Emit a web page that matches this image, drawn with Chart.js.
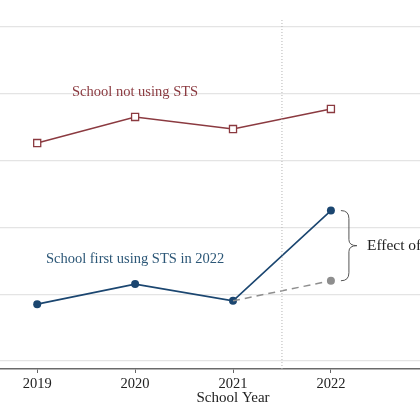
<!DOCTYPE html>
<html><head><meta charset="utf-8">
<script src="https://cdn.jsdelivr.net/npm/chart.js@4"></script>
<style>html,body{margin:0;padding:0;background:#fff}#wrap{width:420px;height:420px}</style>
</head><body><div id="wrap"><canvas id="c"></canvas></div>
<script>
const years = [2019, 2020, 2021, 2022];
const notUsing = [3.26, 3.65, 3.47, 3.77];
const firstUsing = [0.85, 1.15, 0.90, 2.25];
const counterYears = [2021, 2022];
const counterfactual = [0.90, 1.20];
const gridValues = [0, 1, 2, 3, 4, 5];
const labelNotUsing = 'School not using STS';
const labelFirstUsing = 'School first using STS in 2022';
const effectLabel = 'Effect of STS';
const xTitle = 'School Year';
const cutoffYear = 2021.5;

const RED = '#8b3a40', BLUE = '#1b4670', GRAY = '#8e8e8e';
const SERIF = '"Liberation Serif", "Times New Roman", serif';

const annot = {
  id: 'annot',
  afterDatasetsDraw(chart) {
    const {ctx, scales: {x, y}} = chart;
    ctx.save();
    ctx.font = '14.5px ' + SERIF;
    ctx.textAlign = 'center'; ctx.textBaseline = 'middle';
    ctx.fillStyle = RED;
    ctx.fillText(labelNotUsing, x.getPixelForValue(2020), y.getPixelForValue(4.02));
    ctx.fillStyle = '#2c5777';
    ctx.fillText(labelFirstUsing, x.getPixelForValue(2020), y.getPixelForValue(1.52));
    // x-axis title (centred under 2021 as in the cropped original)
    ctx.fillStyle = '#222';
    ctx.font = '15px ' + SERIF;
    ctx.fillText(xTitle, x.getPixelForValue(2021), x.bottom - 22);
    // brace
    const bx = x.getPixelForValue(2022) + 10;
    const yTop = y.getPixelForValue(firstUsing[3]);
    const yBot = y.getPixelForValue(counterfactual[1]);
    const ym = (yTop + yBot) / 2;
    const w = 8;
    ctx.strokeStyle = '#555'; ctx.lineWidth = 1;
    ctx.beginPath();
    ctx.moveTo(bx, yTop);
    ctx.quadraticCurveTo(bx + w, yTop, bx + w, yTop + 8);
    ctx.lineTo(bx + w, ym - 6);
    ctx.quadraticCurveTo(bx + w, ym, bx + 2*w, ym);
    ctx.quadraticCurveTo(bx + w, ym, bx + w, ym + 6);
    ctx.lineTo(bx + w, yBot - 8);
    ctx.quadraticCurveTo(bx + w, yBot, bx, yBot);
    ctx.stroke();
    ctx.fillStyle = '#222';
    ctx.font = '15.5px ' + SERIF;
    ctx.textAlign = 'left';
    ctx.fillText(effectLabel, bx + 2*w + 10, ym);
    ctx.restore();
  }
};

new Chart(document.getElementById('c'), {
  type: 'line',
  data: {
    datasets: [
      {
        data: [{x: cutoffYear, y: -0.12}, {x: cutoffYear, y: 5.12}],
        borderColor: '#b5b5b5', borderWidth: 1, borderDash: [1, 2],
        pointRadius: 0
      },
      {
        data: counterYears.map((yr, i) => ({x: yr, y: counterfactual[i]})),
        borderColor: GRAY, borderWidth: 1.5, borderDash: [7, 5],
        pointRadius: [0, 4], pointBackgroundColor: GRAY, pointBorderWidth: 0
      },
      {
        data: years.map((yr, i) => ({x: yr, y: notUsing[i]})),
        borderColor: RED, borderWidth: 1.5,
        pointStyle: 'rect', pointRadius: 5, pointBackgroundColor: '#fff',
        pointBorderColor: RED, pointBorderWidth: 1.3
      },
      {
        data: years.map((yr, i) => ({x: yr, y: firstUsing[i]})),
        borderColor: BLUE, borderWidth: 1.6,
        pointRadius: 4, pointBackgroundColor: BLUE, pointBorderWidth: 0
      }
    ]
  },
  options: {
    responsive: true, maintainAspectRatio: false, animation: false,
    layout: {padding: 0, autoPadding: false},
    plugins: {legend: {display: false}, tooltip: {enabled: false}},
    scales: {
      x: {
        type: 'linear', min: 2018.62, max: 2022.91,
        afterBuildTicks: s => { s.ticks = years.map(v => ({value: v})); },
        afterFit: s => { s.paddingLeft = 0; s.paddingRight = 0; s.height = 51; },
        ticks: {
          color: '#222', padding: 2, maxRotation: 0,
          font: {family: SERIF, size: 14.5},
          callback: v => String(v)
        },
        grid: {drawOnChartArea: false, drawTicks: true, tickLength: 4, tickColor: '#666', tickWidth: 1},
        border: {display: true, color: '#6a6a6a', width: 1.5},
        title: {display: false}
      },
      y: {
        min: -0.12, max: 5.4,
        afterBuildTicks: s => { s.ticks = gridValues.map(v => ({value: v})); },
        afterFit: s => { s.width = 0; s.paddingTop = 0; s.paddingBottom = 0; },
        ticks: {display: false},
        grid: {color: '#e4e4e4', lineWidth: 1.2, drawTicks: false},
        border: {display: false}
      }
    }
  },
  plugins: [annot]
});
</script></body></html>
